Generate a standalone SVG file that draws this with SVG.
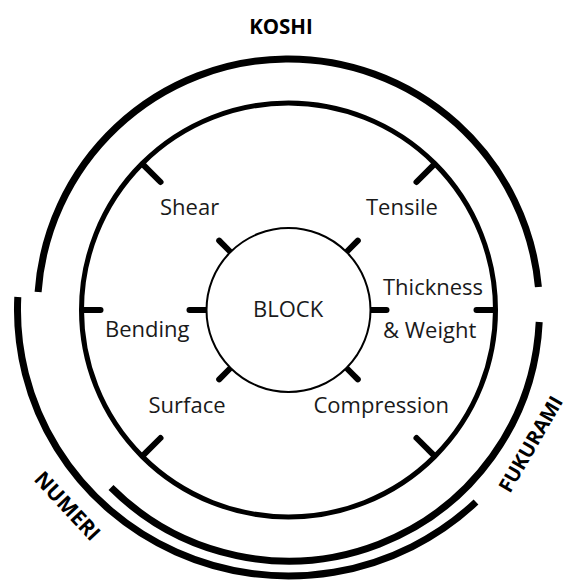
<svg xmlns="http://www.w3.org/2000/svg" width="572" height="581" viewBox="0 0 572 581">
<style>
.ring{fill:none;stroke:#000;stroke-width:7;stroke-linecap:butt}
.mid{fill:none;stroke:#000;stroke-width:5}
.blk{fill:#fff;stroke:#000;stroke-width:2}
.tick{stroke:#000;stroke-width:6;stroke-linecap:round}
.lbl{font-family:"Open Sans","Liberation Sans",sans-serif;font-size:22px;fill:#1a1a1a}
.ttl{font-family:"Open Sans","Liberation Sans",sans-serif;font-size:20.5px;font-weight:bold;fill:#000}
.rot{font-family:"Open Sans","Liberation Sans",sans-serif;font-size:21px;font-weight:bold;fill:#000}
</style>
<rect width="572" height="581" fill="#fff"/>
<g id="connectors">
  <path id="arc-koshi" class="ring" d="M 38.1 292 A 251 251 0 0 1 538.4 287"/>
  <path id="arc-fukurami" class="ring" d="M 539.2 322 A 251 251 0 0 1 111 487.5"/>
  <path id="arc-numeri" class="ring" d="M 17.8 297 A 271 266 0 0 0 476 502"/>
  <circle id="ring-properties" class="mid" cx="288.5" cy="310" r="207"/>
  <g id="outer-ticks">
    <line class="tick" x1="142.8" y1="164.3" x2="160.5" y2="182"/>
    <line class="tick" x1="434.2" y1="164.3" x2="416.5" y2="182"/>
    <line class="tick" x1="142.8" y1="455.7" x2="160.5" y2="438"/>
    <line class="tick" x1="434.2" y1="455.7" x2="416.5" y2="438"/>
    <line class="tick" x1="82.5" y1="310" x2="100.5" y2="310"/>
    <line class="tick" x1="494.5" y1="310" x2="476.5" y2="310"/>
  </g>
  <g id="block-ticks">
    <line class="tick" x1="230.5" y1="252" x2="219.2" y2="240.7"/>
    <line class="tick" x1="346.5" y1="252" x2="357.8" y2="240.7"/>
    <line class="tick" x1="230.5" y1="368" x2="219.2" y2="379.3"/>
    <line class="tick" x1="346.5" y1="368" x2="357.8" y2="379.3"/>
    <line class="tick" x1="206.5" y1="310" x2="189.5" y2="310"/>
    <line class="tick" x1="370.5" y1="310" x2="386.5" y2="310"/>
  </g>
</g>
<g id="block">
  <circle class="blk" cx="288.5" cy="310" r="82"/>
  <text class="lbl" x="253" y="317">BLOCK</text>
</g>
<g id="shear"><text class="lbl" x="160" y="215">Shear</text></g>
<g id="tensile"><text class="lbl" x="366" y="215">Tensile</text></g>
<g id="thickness-weight">
  <text class="lbl" x="383" y="295">Thickness</text>
  <text class="lbl" x="383" y="338">&amp; Weight</text>
</g>
<g id="bending"><text class="lbl" x="105" y="337">Bending</text></g>
<g id="surface"><text class="lbl" x="148.5" y="413">Surface</text></g>
<g id="compression"><text class="lbl" x="313.5" y="413">Compression</text></g>
<g id="koshi"><text class="ttl" x="281" y="34" text-anchor="middle">KOSHI</text></g>
<g id="numeri"><text class="rot" text-anchor="middle" transform="translate(62,511) rotate(47)">NUMERI</text></g>
<g id="fukurami"><text class="rot" style="font-size:20px" transform="translate(510,494) rotate(-60)">FUKURAMI</text></g>
</svg>
